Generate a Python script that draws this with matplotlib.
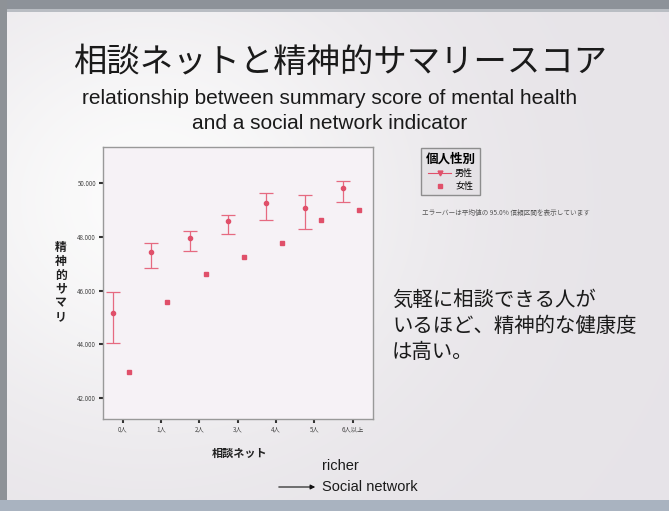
import numpy as np
import matplotlib
matplotlib.use("Agg")
import matplotlib.pyplot as plt
from matplotlib.patches import Rectangle, FancyArrowPatch
from matplotlib.lines import Line2D

plt.rcParams['font.family'] = ['Noto Sans CJK JP', 'DejaVu Sans']

# ---- data -------------------------------------------------------------
categories = ["0人", "1人", "2人", "3人", "4人", "5人", "6人以上"]
male_mean = [45.16, 47.42, 47.97, 48.59, 49.24, 49.06, 49.83]
male_lo = [44.04, 46.83, 47.47, 48.10, 48.62, 48.28, 49.31]
male_hi = [45.96, 47.76, 48.23, 48.81, 49.62, 49.55, 50.09]
female_mean = [42.99, 45.57, 46.61, 47.26, 47.76, 48.62, 49.00]
y_ticks = [42, 44, 46, 48, 50]
y_tick_labels = ["42.000", "44.000", "46.000", "48.000", "50.000"]

W, H = 669, 511
fig = plt.figure(figsize=(W / 100, H / 100), dpi=100)


def fx(px):
    return px / W


def fy(py):
    return 1 - py / H


# ---- slide background -------------------------------------------------
bg = fig.add_axes([0, 0, 1, 1], zorder=-10)
bg.set_axis_off()
yy, xx = np.mgrid[0:H, 0:W]
base = np.array([0.905, 0.893, 0.910])
glow = np.exp(-(((xx - 150) / 260.0) ** 2 + ((yy - 200) / 230.0) ** 2))
img = np.empty((H, W, 3))
for c in range(3):
    img[..., c] = base[c] + (0.985 - base[c]) * glow
bg.imshow(img, extent=[0, W, H, 0], aspect="auto")
bg.set_xlim(0, W)
bg.set_ylim(H, 0)
# window frame
bg.add_patch(Rectangle((0, 0), W, 12, color="#8d9299", lw=0))
bg.add_patch(Rectangle((0, 9), W, 3, color="#b9bdc3", lw=0))
bg.add_patch(Rectangle((0, 0), 7, H, color="#8e9297", lw=0))
bg.add_patch(Rectangle((0, 500), W, 11, color="#a9b3c0", lw=0))

# ---- title texts ------------------------------------------------------
fig.text(fx(340), fy(62), "相談ネットと精神的サマリースコア", ha="center", va="center",
         fontsize=24, color="#1a1a1a")
sub_kw = dict(ha="center", va="baseline", fontsize=15, family="Liberation Sans",
              color="#1a1a1a")
fig.text(fx(330), fy(104), "relationship between summary score of mental health", **sub_kw)
fig.text(fx(330), fy(129), "and a social network indicator", **sub_kw)

# ---- chart ------------------------------------------------------------
left, right, top, bottom = 103, 373, 147, 419
ax = fig.add_axes([fx(left), fy(bottom), fx(right - left), (bottom - top) / H])
ax.set_facecolor("#f6f2f6")
x = np.arange(len(categories))
off_m, off_f = -0.25, 0.17
red = "#e0506a"
mm = np.array(male_mean)
ax.errorbar(x + off_m, mm, yerr=[mm - np.array(male_lo), np.array(male_hi) - mm],
            fmt="o", ms=3, color=red, ecolor="#e66a80", elinewidth=0.9,
            capsize=5, capthick=0.9)
ax.plot(x + off_f, female_mean, "s", ms=2.5, color=red, ls="none")

ax.set_xlim(-0.51, 6.53)
ax.set_ylim(41.23, 51.34)
ax.set_xticks(x)
ax.set_xticklabels(categories, fontsize=4.5, color="#444444")
ax.set_yticks(y_ticks)
ax.set_yticklabels(y_tick_labels, fontsize=4.5, color="#444444")
ax.tick_params(length=3, width=1.5, color="#333333", pad=2)
for s in ax.spines.values():
    s.set_color("#999999")
    s.set_linewidth(1)

# axis titles
fig.text(fx(61), fy(282), "\n".join("精神的サマリ"), ha="center", va="center",
         fontsize=8.5, fontweight="bold", color="#222222", linespacing=1.1)
fig.text(fx(240), fy(453), "相談ネット", ha="center", va="center",
         fontsize=8, fontweight="bold", color="#222222")

# ---- legend -----------------------------------------------------------
handles = [Line2D([], [], color=red, marker="v", ms=3.5, lw=0.8),
           Line2D([], [], color=red, marker="s", ms=2.5, lw=0)]
leg = fig.legend(handles, ["男性", "女性"], title="個人性別",
                 loc="upper left", bbox_to_anchor=(fx(421), fy(148)),
                 borderaxespad=0, fontsize=6.5, title_fontsize=9, frameon=True,
                 fancybox=False, edgecolor="#777777", facecolor="#e4e1e5",
                 handlelength=2.6, borderpad=0.5, labelspacing=0.4, handletextpad=0.4)
leg.get_frame().set_linewidth(1.0)
leg.get_title().set_fontweight("bold")
fig.text(fx(422), fy(213), "エラーバーは平均値の 95.0% 信頼区間を表示しています",
         ha="left", va="center", fontsize=4.8, color="#555555")

# ---- annotation -------------------------------------------------------
for i, line in enumerate(["気軽に相談できる人が", "いるほど、精神的な健康度", "は高い。"]):
    fig.text(fx(392), fy(300 + 26 * i), line, ha="left", va="center",
             fontsize=14.7, color="#1a1a1a")

fig.text(fx(322), fy(466), "richer", ha="left", va="center", fontsize=10.5,
         family="Liberation Sans", color="#1a1a1a")
fig.text(fx(322), fy(487), "Social network", ha="left", va="center", fontsize=10.5,
         family="Liberation Sans", color="#1a1a1a")
arrow = FancyArrowPatch((fx(276), fy(487)), (fx(318), fy(487)),
                        transform=fig.transFigure, arrowstyle="-|>",
                        mutation_scale=7, lw=0.8, color="#111111")
fig.add_artist(arrow)

fig.savefig("out.png", dpi=100)
